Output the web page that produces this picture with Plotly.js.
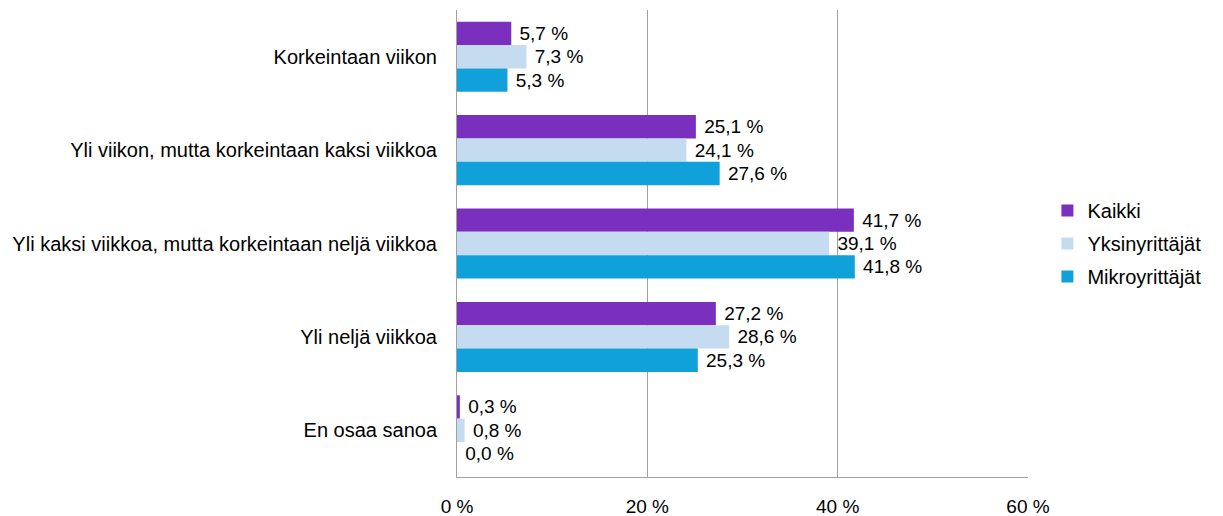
<!DOCTYPE html>
<html>
<head>
<meta charset="utf-8">
<script src="https://cdn.plot.ly/plotly-3.0.1.min.js"></script>
<style>html,body{margin:0;padding:0;background:#fff;}#chart{width:1223px;height:516px;}</style>
</head>
<body>
<div id="chart"></div>
<script>
const categories = [
  "Korkeintaan viikon",
  "Yli viikon, mutta korkeintaan kaksi viikkoa",
  "Yli kaksi viikkoa, mutta korkeintaan neljä viikkoa",
  "Yli neljä viikkoa",
  "En osaa sanoa"
];
const seriesNames = ["Kaikki", "Yksinyrittäjät", "Mikroyrittäjät"];
const kaikki = [5.7, 25.1, 41.7, 27.2, 0.3];
const yksinyrittajat = [7.3, 24.1, 39.1, 28.6, 0.8];
const mikroyrittajat = [5.3, 27.6, 41.8, 25.3, 0.0];
const colors = ["#7B2FBF", "#C5DCF0", "#10A0DA"];
const tickVals = [0, 20, 40, 60];

function fmt(v) { return '\u00a0' + v.toFixed(1).replace('.', ',') + ' %'; }

const allSeries = [kaikki, yksinyrittajat, mikroyrittajat];
const traces = allSeries.map((vals, i) => ({
  type: 'bar',
  orientation: 'h',
  name: seriesNames[i],
  y: categories,
  x: vals,
  text: vals.map(fmt),
  textposition: 'outside',
  textfont: {size: 19, color: '#000'},
  constraintext: 'none',
  cliponaxis: false,
  marker: {color: colors[i]},
  legendgroup: 'g' + i,
  hoverinfo: 'none'
}));

const layout = {
  width: 1223, height: 516,
  margin: {l: 457, r: 195, t: 10, b: 39},
  paper_bgcolor: '#fff', plot_bgcolor: '#fff',
  font: {family: 'Liberation Sans, Arial, sans-serif', size: 20, color: '#000'},
  barmode: 'group',
  bargap: 0.25,
  bargroupgap: 0,
  showlegend: true,
  legend: {x: 1.034, y: 0.5, yanchor: 'middle', xanchor: 'left', font: {size: 20}, tracegroupgap: 4, itemwidth: 30},
  xaxis: {
    range: [0, 60], tickvals: tickVals, ticktext: tickVals.map(v => v + ' %'),
    showgrid: true, gridcolor: '#a0a0a0', gridwidth: 1,
    showline: true, linecolor: '#a0a0a0', zeroline: false,
    ticks: '', ticklabelstandoff: 12, tickfont: {size: 19}, fixedrange: true
  },
  yaxis: {
    autorange: 'reversed', showline: true, linecolor: '#a0a0a0',
    showgrid: false, ticks: '', ticklabelstandoff: 15, tickfont: {size: 20}, fixedrange: true
  }
};

Plotly.newPlot('chart', traces, layout, {displayModeBar: false, staticPlot: true});
</script>
</body>
</html>
